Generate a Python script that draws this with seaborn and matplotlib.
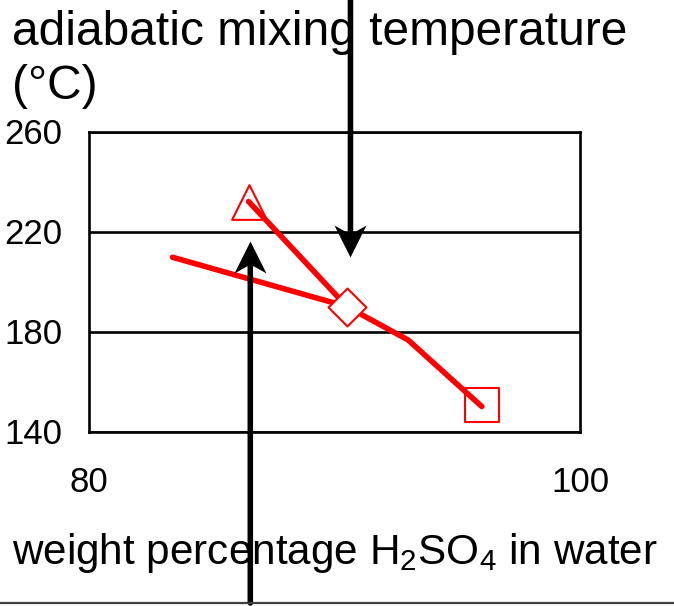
import matplotlib
matplotlib.use("Agg")
import matplotlib.pyplot as plt
import seaborn as sns
import pandas as pd
from matplotlib.path import Path
from matplotlib.lines import Line2D

# ---- data ----
line1_x = [83.4, 90.5, 93.0, 96.0]
line1_y = [209.7, 190.0, 176.6, 150.0]
line2_x = [86.5, 90.5]
line2_y = [232.0, 190.0]
marker_names = ["triangle", "diamond", "square"]
marker_x = [86.5, 90.5, 96.0]
marker_y = [232.0, 190.0, 150.5]
arrow_x = [90.65, 86.57]
arrow_tip_y = [209.7, 216.2]
arrow_tail_y = [312.6, 71.4]
x_ticks = [80, 100]
y_ticks = [140, 180, 220, 260]
title_text = "adiabatic mixing temperature\n(°C)"
xlabel_text = "weight percentage H$_{2}$SO$_{4}$ in water"

sns.set_style("white")
plt.rcParams["font.family"] = ["Liberation Sans", "DejaVu Sans"]
plt.rcParams["mathtext.fontset"] = "custom"
plt.rcParams["mathtext.rm"] = "Liberation Sans"
plt.rcParams["mathtext.it"] = "Liberation Sans:italic"
plt.rcParams["mathtext.bf"] = "Liberation Sans:bold"

W, H = 674, 606
fig = plt.figure(figsize=(W / 100, H / 100), dpi=100)
ax = fig.add_axes([89 / W, 1 - 431.5 / H, 491 / W, 300 / H])

df1 = pd.DataFrame({"x": line1_x, "y": line1_y})
df2 = pd.DataFrame({"x": line2_x, "y": line2_y})
sns.lineplot(data=df1, x="x", y="y", sort=False, estimator=None, color="#ff0000",
             lw=4.0, ax=ax, zorder=4, solid_capstyle="round", solid_joinstyle="round")
sns.lineplot(data=df2, x="x", y="y", sort=False, estimator=None, color="#ff0000",
             lw=4.0, ax=ax, zorder=4, solid_capstyle="round", solid_joinstyle="round")

mk_style = {"triangle": ("^", 25, 3), "diamond": ("D", 19.3, 5), "square": ("s", 25, 3)}
for name, mx, my in zip(marker_names, marker_x, marker_y):
    m, ms, z = mk_style[name]
    sns.scatterplot(x=[mx], y=[my], marker=m, s=ms ** 2, color="white",
                    edgecolor="#ff0000", linewidth=1.5, ax=ax, zorder=z, clip_on=False)

# arrows
down_head = Path([(0, 0), (-0.5, 1), (0, 0.72), (0.5, 1), (0, 0)],
                 [Path.MOVETO, Path.LINETO, Path.LINETO, Path.LINETO, Path.CLOSEPOLY])
up_head = Path([(0, 0), (-0.5, -1), (0, -0.72), (0.5, -1), (0, 0)],
               [Path.MOVETO, Path.LINETO, Path.LINETO, Path.LINETO, Path.CLOSEPOLY])
for ax_x, tip, tail in zip(arrow_x, arrow_tip_y, arrow_tail_y):
    direction = 1 if tail > tip else -1
    shaft_end = tip + direction * 10
    ax.annotate("", xy=(ax_x, shaft_end), xytext=(ax_x, tail), xycoords="data",
                textcoords="data", annotation_clip=False,
                arrowprops=dict(arrowstyle="-", lw=4.0, color="black",
                                shrinkA=0, shrinkB=0), zorder=6)
    ax.plot([ax_x], [tip], marker=down_head if direction == 1 else up_head,
            ms=46, color="black", mew=0, clip_on=False, zorder=7)

ax.set_xlim(80, 100)
ax.set_ylim(140, 260)
ax.set_xticks(x_ticks)
ax.set_yticks(y_ticks)
ax.set_xlabel("")
ax.set_ylabel("")
ax.yaxis.grid(True, color="black", lw=1.9)
ax.xaxis.grid(False)
ax.set_axisbelow(True)
for sp in ax.spines.values():
    sp.set_visible(True)
    sp.set_color("black")
    sp.set_linewidth(1.9)
ax.tick_params(axis="both", direction="out", length=8.5, width=1.9,
               color="black", labelsize=25, labelcolor="black")
ax.tick_params(axis="x", pad=16)
ax.tick_params(axis="y", pad=10.8)

# axis texts
fig.text(12 / W, 1 - 99 / H, title_text, ha="left", va="baseline", fontsize=34.5,
         color="black", linespacing=1.25)
ax.set_xlabel(xlabel_text, fontsize=30.4, color="black")
ax.xaxis.set_label_coords((335 - 89) / 491, (431.5 - 564) / 300)
ax.xaxis.label.set_va("baseline")

fig.add_artist(Line2D([0, 1], [1 - 603 / H, 1 - 603 / H], transform=fig.transFigure,
                      color="#404040", lw=1.6))

fig.savefig("out.png", dpi=100)
